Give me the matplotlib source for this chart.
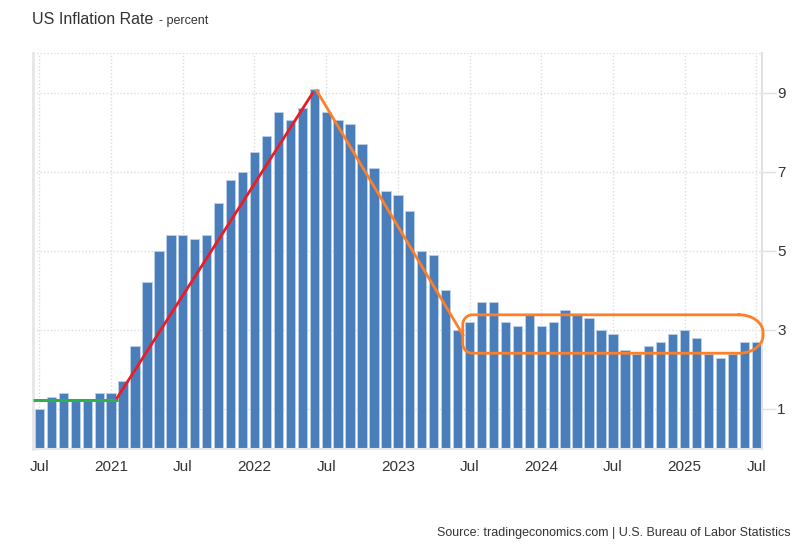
import numpy as np
import matplotlib
matplotlib.use("Agg")
import matplotlib.pyplot as plt

# monthly CPI y/y, Jul 2020 .. Jul 2025
inflation = [
    1.0, 1.3, 1.4, 1.2, 1.2, 1.4,                  # Jul-Dec 2020
    1.4, 1.7, 2.6, 4.2, 5.0, 5.4, 5.4, 5.3, 5.4, 6.2, 6.8, 7.0,   # 2021
    7.5, 7.9, 8.5, 8.3, 8.6, 9.1, 8.5, 8.3, 8.2, 7.7, 7.1, 6.5,   # 2022
    6.4, 6.0, 5.0, 4.9, 4.0, 3.0, 3.2, 3.7, 3.7, 3.2, 3.1, 3.4,   # 2023
    3.1, 3.2, 3.5, 3.4, 3.3, 3.0, 2.9, 2.5, 2.4, 2.6, 2.7, 2.9,   # 2024
    3.0, 2.8, 2.4, 2.3, 2.4, 2.7, 2.7,                            # Jan-Jul 2025
]
tick_labels = ["Jul", "2021", "Jul", "2022", "Jul", "2023", "Jul", "2024", "Jul", "2025", "Jul"]
y_ticks = [1, 3, 5, 7, 9]

# hand drawn annotations (data coords: x = month index, y = percent)
green_x, green_y = [-0.54, 6.6], [1.23, 1.23]
red_x, red_y = [6.5, 22.85], [1.28, 8.98]
orange_x, orange_y = [23.2, 35.45], [9.05, 2.87]
box = dict(x0=35.43, x1=60.57, y0=2.41, y1=3.38)

BAR = "#4a7ebb"
GRID = "#dcdcdc"
TEXT = "#333333"

plt.rcParams['font.family'] = ['Liberation Sans', 'DejaVu Sans']

x = np.arange(len(inflation))

fig = plt.figure(figsize=(8.04, 5.49), dpi=100)
ax = fig.add_axes([33 / 804, 1 - 448.5 / 549, (762 - 33) / 804, (448.5 - 53) / 549])

ax.bar(x, inflation, width=0.78, color=BAR, edgecolor="#bcd0ea", linewidth=0.6, zorder=2)

ax.set_xlim(-0.54, 60.48)
ax.set_ylim(0, 10)

tick_pos = x[::6]
ax.set_xticks(tick_pos)
ax.set_xticklabels(tick_labels)
ax.set_yticks(y_ticks)
ax.yaxis.tick_right()
ax.tick_params(axis="x", length=0, pad=8, labelsize=11, labelcolor=TEXT)
ax.tick_params(axis="y", length=10, width=1, color="#e0e0e0", pad=1, labelsize=11, labelcolor=TEXT)

for v in y_ticks + [10]:
    ax.axhline(v, color=GRID, lw=1, ls=(0, (1, 1.5)), zorder=1)
for p in tick_pos:
    ax.axvline(p, color=GRID, lw=1, ls=(0, (1, 1.5)), zorder=1)

ax.spines["top"].set_visible(False)
ax.spines["left"].set_color("#e6e6e6")
ax.spines["left"].set_linewidth(2)
ax.spines["right"].set_color("#e0e0e0")
ax.spines["right"].set_linewidth(1.5)
ax.spines["bottom"].set_color("#e6e6e6")
ax.spines["bottom"].set_linewidth(1.5)

# annotations
ax.plot(green_x, green_y, color="#2eb04b", lw=2.2, zorder=4, solid_capstyle="butt")
ax.plot(red_x, red_y, color="#ec1c24", lw=2.0, zorder=4)
ax.plot(orange_x, orange_y, color="#ff7f27", lw=2.0, zorder=4)


def rounded_box(x0, x1, y0, y1, rxl, ryl, rxr, ryr, n=20):
    t = np.linspace(0, np.pi / 2, n)
    px, py = [], []
    # top-right
    px += list(x1 - rxr + rxr * np.sin(t))
    py += list(y1 - ryr + ryr * np.cos(t))
    # bottom-right
    px += list(x1 - rxr + rxr * np.cos(t))
    py += list(y0 + ryr - ryr * np.sin(t))
    # bottom-left
    px += list(x0 + rxl - rxl * np.sin(t))
    py += list(y0 + ryl - ryl * np.cos(t))
    # top-left
    px += list(x0 + rxl - rxl * np.cos(t))
    py += list(y1 - ryl + ryl * np.sin(t))
    px.append(px[0])
    py.append(py[0])
    return px, py


bx, by = rounded_box(box["x0"], box["x1"], box["y0"], box["y1"], 0.8, 0.25, 2.0, 0.45)
ax.plot(bx, by, color="#ff7f27", lw=2.0, zorder=4, clip_on=False)

fig.text(32 / 804, 1 - 20 / 549, "US Inflation Rate", fontsize=11.5, color=TEXT, va="center")
fig.text(159 / 804, 1 - 21 / 549, "- percent", fontsize=9, color=TEXT, va="center")
fig.text(791 / 804, 1 - 533 / 549, "Source: tradingeconomics.com | U.S. Bureau of Labor Statistics",
         fontsize=9, color=TEXT, ha="right", va="center")

fig.savefig("out.png", dpi=100)
